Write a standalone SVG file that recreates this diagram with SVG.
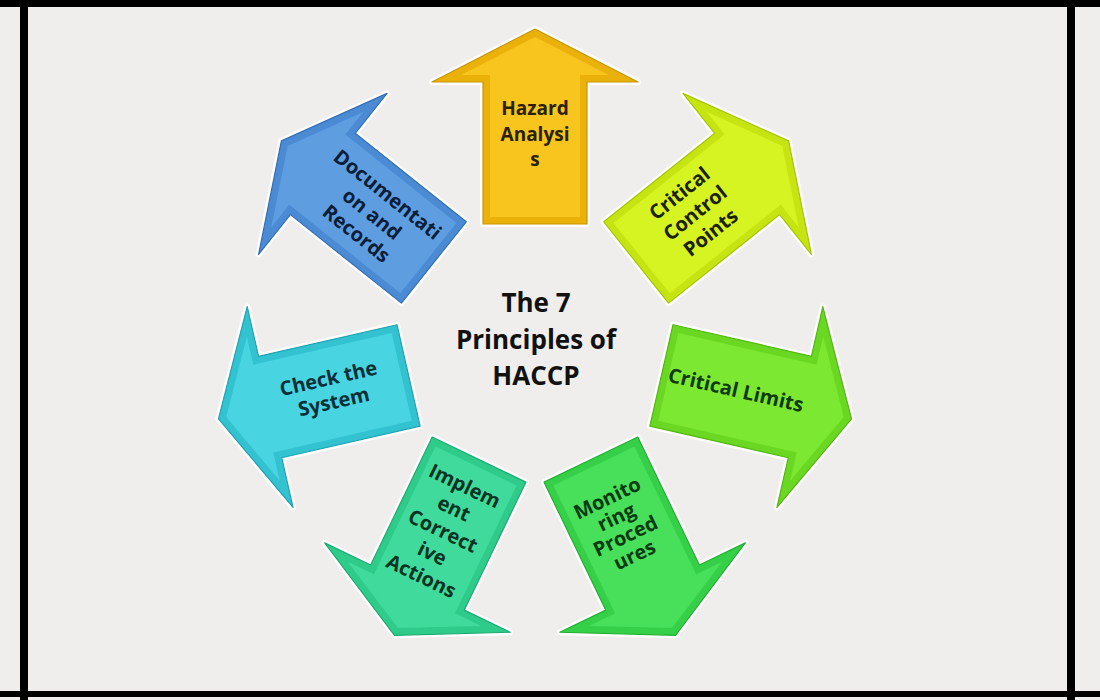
<svg xmlns="http://www.w3.org/2000/svg" width="1100" height="700" viewBox="0 0 1100 700">
<style>
.bg{fill:#efeeec}
.frame{fill:#000}
.halo{fill:none;stroke:#ffffff;stroke-width:6;stroke-linejoin:round}
.edge{stroke-width:1.2;stroke-linejoin:round}
.lbl{font-family:"Open Sans","Liberation Sans",sans-serif;font-weight:bold;font-size:20px;text-anchor:middle}
.title{font-family:"Open Sans","Liberation Sans",sans-serif;font-weight:bold;font-size:26px;text-anchor:middle;fill:#111}
</style>
<defs>
<path id="aOut" d="M-52,97 L-52,-45 L-103,-45 L0,-98 L103,-45 L52,-45 L52,97 Z"/>
<path id="aIn" d="M-45,90 L-45,-52 L-74,-52 L0,-90 L74,-52 L45,-52 L45,90 Z"/>
</defs>
<rect class="bg" x="0" y="0" width="1100" height="700"/>
<rect class="frame" x="0" y="0" width="1100" height="7"/>
<rect class="frame" x="0" y="691" width="1100" height="6"/>
<rect class="frame" x="20" y="0" width="8" height="700"/>
<rect class="frame" x="1067" y="0" width="8" height="700"/>

<g id="hazard">
<g transform="translate(535,127)">
<use href="#aOut" class="halo"/>
<use href="#aOut" class="edge" fill="#e9b10a" stroke="#c99500"/>
<use href="#aIn" fill="#f7c51e"/>
</g>
<text class="lbl" fill="#2a2100" style="font-size:19px"><tspan x="535" y="115">Hazard</tspan><tspan x="535" y="141">Analysi</tspan><tspan x="535" y="166">s</tspan></text>
</g>

<g id="ccp">
<g transform="translate(712,202) rotate(51.43)">
<use href="#aOut" class="halo"/>
<use href="#aOut" class="edge" fill="#c6e412" stroke="#a9c400"/>
<use href="#aIn" fill="#d6f322"/>
</g>
<text class="lbl" fill="#1c2200" transform="translate(695,213) rotate(-38.57)"><tspan x="0" y="-18">Critical</tspan><tspan x="0" y="7">Control</tspan><tspan x="0" y="32">Points</tspan></text>
</g>

<g id="limits">
<g transform="translate(756,397) rotate(102.86)">
<use href="#aOut" class="halo"/>
<use href="#aOut" class="edge" fill="#6ad822" stroke="#52b810"/>
<use href="#aIn" fill="#7de832"/>
</g>
<text class="lbl" fill="#0f3a0c" transform="translate(736,390) rotate(12.86)"><tspan x="0" y="7">Critical Limits</tspan></text>
</g>

<g id="monitoring">
<g transform="translate(633,547) rotate(154.29)">
<use href="#aOut" class="halo"/>
<use href="#aOut" class="edge" fill="#36cf48" stroke="#22b034"/>
<use href="#aIn" fill="#48df5a"/>
</g>
<text class="lbl" fill="#0a3a10" transform="translate(621,527) rotate(-25.71)"><tspan x="0" y="-25">Monito</tspan><tspan x="0" y="-4">ring</tspan><tspan x="0" y="17">Proced</tspan><tspan x="0" y="38">ures</tspan></text>
</g>

<g id="implement">
<g transform="translate(437,547) rotate(205.71)">
<use href="#aOut" class="halo"/>
<use href="#aOut" class="edge" fill="#2ecb8a" stroke="#1cac70"/>
<use href="#aIn" fill="#40db9c"/>
</g>
<text class="lbl" fill="#083322" transform="translate(443,531) rotate(25.71)"><tspan x="0" y="-43">Implem</tspan><tspan x="0" y="-18">ent</tspan><tspan x="0" y="7">Correct</tspan><tspan x="0" y="32">ive</tspan><tspan x="0" y="57">Actions</tspan></text>
</g>

<g id="check">
<g transform="translate(314,397) rotate(257.14)">
<use href="#aOut" class="halo"/>
<use href="#aOut" class="edge" fill="#33c2d0" stroke="#1fa3b2"/>
<use href="#aIn" fill="#48d4e0"/>
</g>
<text class="lbl" fill="#0a2f38" transform="translate(331,390) rotate(-12.86)"><tspan x="0" y="-5">Check the</tspan><tspan x="0" y="19">System</tspan></text>
</g>

<g id="documentation">
<g transform="translate(358,202) rotate(308.57)">
<use href="#aOut" class="halo"/>
<use href="#aOut" class="edge" fill="#4a8bd3" stroke="#346fb5"/>
<use href="#aIn" fill="#5d9de0"/>
</g>
<text class="lbl" fill="#0c1d38" transform="translate(372,214) rotate(38.57)"><tspan x="0" y="-18">Documentati</tspan><tspan x="0" y="7">on and</tspan><tspan x="0" y="32">Records</tspan></text>
</g>

<g id="center">
<text class="title"><tspan x="536" y="312">The 7</tspan><tspan x="536" y="349">Principles of</tspan><tspan x="536" y="385">HACCP</tspan></text>
</g>
<g id="connectors"/>
</svg>
